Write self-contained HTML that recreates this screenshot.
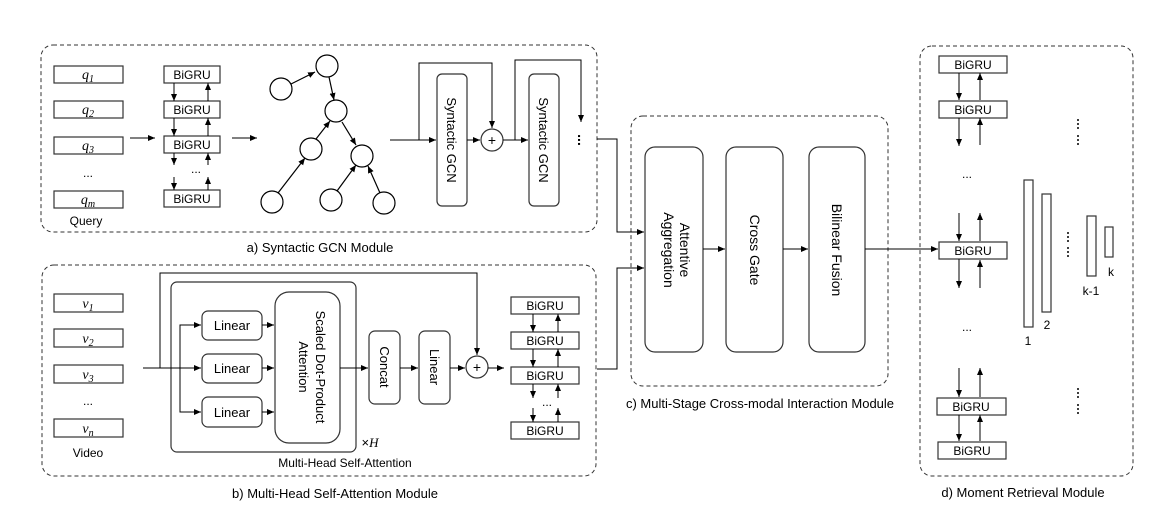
<!DOCTYPE html>
<html><head><meta charset="utf-8"><style>
html,body{margin:0;padding:0;background:#fff;}
svg{display:block;}
text{font-family:"Liberation Sans",sans-serif;fill:#000;}
.m{font-family:"Liberation Serif",serif;font-style:italic;}
</style></head><body>
<svg width="1166" height="517" viewBox="0 0 1166 517" xmlns="http://www.w3.org/2000/svg">
<defs>
<marker id="a" markerWidth="8" markerHeight="8" refX="7" refY="4" orient="auto" markerUnits="userSpaceOnUse">
<path d="M0,1 L7,4 L0,7 Z" fill="#000"/></marker>
</defs>
<g fill="none" stroke="#333" stroke-width="1" stroke-dasharray="4,3">
<rect x="41" y="45" width="556" height="187" rx="12"/>
<rect x="42" y="265" width="554" height="211" rx="12"/>
<rect x="631" y="116" width="257" height="270" rx="12"/>
<rect x="920" y="46" width="213" height="430" rx="12"/>
</g>
<g font-size="13" text-anchor="middle">
<text x="320" y="252">a) Syntactic GCN Module</text>
<text x="335" y="498">b) Multi-Head Self-Attention Module</text>
<text x="760" y="408">c) Multi-Stage Cross-modal Interaction Module</text>
<text x="1023" y="497">d) Moment Retrieval Module</text>
</g>

<!-- a) -->
<g fill="#fff" stroke="#333" stroke-width="1.2">
<rect x="54" y="66" width="69" height="17"/>
<rect x="54" y="101" width="69" height="17"/>
<rect x="54" y="137" width="69" height="17"/>
<rect x="54" y="191" width="69" height="17"/>
<rect x="164" y="66" width="56" height="17"/>
<rect x="164" y="101" width="56" height="17"/>
<rect x="164" y="136" width="56" height="17"/>
<rect x="164" y="190" width="56" height="17"/>
</g>
<g font-size="14" text-anchor="middle">
<text x="88" y="79" class="m">q<tspan font-size="10" dy="3">1</tspan></text>
<text x="88" y="114" class="m">q<tspan font-size="10" dy="3">2</tspan></text>
<text x="88" y="150" class="m">q<tspan font-size="10" dy="3">3</tspan></text>
<text x="88" y="204" class="m">q<tspan font-size="10" dy="3">m</tspan></text>
</g>
<g font-size="12" text-anchor="middle">
<text x="88" y="177">...</text>
<text x="86" y="225" font-size="12">Query</text>
<text x="192" y="79">BiGRU</text>
<text x="192" y="114">BiGRU</text>
<text x="192" y="149">BiGRU</text>
<text x="196" y="173">...</text>
<text x="192" y="203">BiGRU</text>
</g>
<g stroke="#000" stroke-width="1" marker-end="url(#a)">
<line x1="174" y1="83" x2="174" y2="101"/><line x1="208" y1="101" x2="208" y2="83"/>
<line x1="174" y1="118" x2="174" y2="136"/><line x1="208" y1="136" x2="208" y2="118"/>
<line x1="174" y1="153" x2="174" y2="165"/><line x1="208" y1="165" x2="208" y2="153"/>
<line x1="174" y1="177" x2="174" y2="190"/><line x1="208" y1="190" x2="208" y2="177"/>
<line x1="130" y1="138" x2="155" y2="138"/>
<line x1="232" y1="138" x2="257" y2="138"/>
</g>
<g stroke="#000" stroke-width="1.2" marker-end="url(#a)">
<line x1="291" y1="84" x2="315" y2="72"/>
<line x1="329" y1="77" x2="334" y2="100"/>
<line x1="316" y1="139" x2="330" y2="121"/>
<line x1="342" y1="122" x2="356" y2="145"/>
<line x1="278" y1="193" x2="305" y2="158"/>
<line x1="337" y1="191" x2="356" y2="165"/>
<line x1="380" y1="193" x2="368" y2="166"/>
</g>
<g fill="#fff" stroke="#000" stroke-width="1.2">
<circle cx="327" cy="66" r="11"/>
<circle cx="281" cy="89" r="11"/>
<circle cx="336" cy="111" r="11"/>
<circle cx="311" cy="149" r="11"/>
<circle cx="362" cy="156" r="11"/>
<circle cx="272" cy="202" r="11"/>
<circle cx="331" cy="200" r="11"/>
<circle cx="384" cy="203" r="11"/>
</g>
<g fill="#fff" stroke="#333" stroke-width="1.2">
<rect x="437" y="74" width="30" height="132" rx="5"/>
<rect x="529" y="74" width="30" height="132" rx="5"/>
<circle cx="492" cy="140" r="11"/>
</g>
<g font-size="13" text-anchor="middle">
<text transform="translate(447,140) rotate(90)">Syntactic GCN</text>
<text transform="translate(539,140) rotate(90)">Syntactic GCN</text>
<text x="492" y="145" font-size="14">+</text>
<text transform="translate(578,140) rotate(90)" font-size="14" font-weight="bold">...</text>
</g>
<g stroke="#000" stroke-width="1" fill="none">
<line x1="390" y1="140" x2="436" y2="140" marker-end="url(#a)"/>
<polyline points="419,140 419,63 492,63 492,128" marker-end="url(#a)"/>
<line x1="467" y1="140" x2="480" y2="140" marker-end="url(#a)"/>
<line x1="503" y1="140" x2="528" y2="140" marker-end="url(#a)"/>
<polyline points="515,140 515,60 581,60 581,122" marker-end="url(#a)"/>
<polyline points="597,139 617,139 617,232 644,232" marker-end="url(#a)"/>
<polyline points="597,369 617,369 617,268 644,268" marker-end="url(#a)"/>
</g>

<!-- b) -->
<g fill="#fff" stroke="#333" stroke-width="1.2">
<rect x="54" y="294" width="69" height="18"/>
<rect x="54" y="329" width="69" height="18"/>
<rect x="54" y="365" width="69" height="18"/>
<rect x="54" y="419" width="69" height="18"/>
</g>
<g font-size="14" text-anchor="middle">
<text x="88" y="308" class="m">v<tspan font-size="10" dy="3">1</tspan></text>
<text x="88" y="343" class="m">v<tspan font-size="10" dy="3">2</tspan></text>
<text x="88" y="379" class="m">v<tspan font-size="10" dy="3">3</tspan></text>
<text x="88" y="433" class="m">v<tspan font-size="10" dy="3">n</tspan></text>
<text x="88" y="405" font-size="12">...</text>
<text x="88" y="457" font-size="12">Video</text>
</g>
<g fill="none" stroke="#333" stroke-width="1.2">
<rect x="171" y="282" width="185" height="170" rx="6"/>
<rect x="202" y="311" width="60" height="29" rx="6" fill="#fff"/>
<rect x="202" y="354" width="60" height="29" rx="6" fill="#fff"/>
<rect x="202" y="397" width="60" height="30" rx="6" fill="#fff"/>
<rect x="275" y="292" width="65" height="151" rx="14" fill="#fff"/>
<rect x="369" y="331" width="31" height="73" rx="6" fill="#fff"/>
<rect x="419" y="331" width="31" height="73" rx="6" fill="#fff"/>
<circle cx="477" cy="367" r="11" fill="#fff"/>
</g>
<g font-size="13" text-anchor="middle">
<text x="232" y="330">Linear</text>
<text x="232" y="373">Linear</text>
<text x="232" y="417">Linear</text>
<text transform="translate(316,367) rotate(90)">Scaled Dot-Product</text>
<text transform="translate(299,367) rotate(90)">Attention</text>
<text transform="translate(380,367) rotate(90)">Concat</text>
<text transform="translate(430,367) rotate(90)">Linear</text>
<text x="477" y="372" font-size="14">+</text>
<text x="345" y="467" font-size="12">Multi-Head Self-Attention</text>
<text x="370" y="447" font-size="13"><tspan>×</tspan><tspan class="m">H</tspan></text>
</g>
<g stroke="#000" stroke-width="1" fill="none">
<line x1="143" y1="368" x2="201" y2="368" marker-end="url(#a)"/>
<polyline points="160,368 160,273 477,273 477,355" marker-end="url(#a)"/>
<polyline points="201,325 180,325 180,412 201,412" />
<line x1="192" y1="325" x2="201" y2="325" marker-end="url(#a)"/>
<line x1="192" y1="412" x2="201" y2="412" marker-end="url(#a)"/>
<line x1="262" y1="325" x2="274" y2="325" marker-end="url(#a)"/>
<line x1="262" y1="368" x2="274" y2="368" marker-end="url(#a)"/>
<line x1="262" y1="412" x2="274" y2="412" marker-end="url(#a)"/>
<line x1="340" y1="368" x2="368" y2="368" marker-end="url(#a)"/>
<line x1="400" y1="368" x2="418" y2="368" marker-end="url(#a)"/>
<line x1="450" y1="368" x2="465" y2="368" marker-end="url(#a)"/>
<line x1="488" y1="368" x2="504" y2="368" marker-end="url(#a)"/>
</g>
<g fill="#fff" stroke="#333" stroke-width="1.2">
<rect x="511" y="297" width="68" height="17"/>
<rect x="511" y="332" width="68" height="17"/>
<rect x="511" y="367" width="68" height="17"/>
<rect x="511" y="422" width="68" height="17"/>
</g>
<g font-size="12" text-anchor="middle">
<text x="545" y="310">BiGRU</text>
<text x="545" y="345">BiGRU</text>
<text x="545" y="380">BiGRU</text>
<text x="547" y="406">...</text>
<text x="545" y="435">BiGRU</text>
</g>
<g stroke="#000" stroke-width="1" marker-end="url(#a)">
<line x1="533" y1="314" x2="533" y2="332"/><line x1="558" y1="332" x2="558" y2="314"/>
<line x1="533" y1="349" x2="533" y2="367"/><line x1="558" y1="367" x2="558" y2="349"/>
<line x1="533" y1="384" x2="533" y2="398"/><line x1="558" y1="398" x2="558" y2="384"/>
<line x1="533" y1="408" x2="533" y2="422"/><line x1="558" y1="422" x2="558" y2="408"/>
</g>

<!-- c) -->
<g fill="#fff" stroke="#333" stroke-width="1.2">
<rect x="645" y="147" width="58" height="205" rx="10"/>
<rect x="726" y="147" width="57" height="205" rx="10"/>
<rect x="809" y="147" width="56" height="205" rx="10"/>
</g>
<g font-size="14" text-anchor="middle">
<text transform="translate(680,250) rotate(90)">Attentive</text>
<text transform="translate(664,250) rotate(90)">Aggregation</text>
<text transform="translate(750,250) rotate(90)">Cross Gate</text>
<text transform="translate(832,250) rotate(90)">Bilinear Fusion</text>
</g>
<g stroke="#000" stroke-width="1" marker-end="url(#a)">
<line x1="703" y1="249" x2="725" y2="249"/>
<line x1="783" y1="249" x2="808" y2="249"/>
<line x1="865" y1="249" x2="938" y2="249"/>
</g>

<!-- d) -->
<g fill="#fff" stroke="#333" stroke-width="1.2">
<rect x="939" y="56" width="68" height="17"/>
<rect x="939" y="101" width="68" height="17"/>
<rect x="939" y="242" width="68" height="17"/>
<rect x="937" y="398" width="69" height="17"/>
<rect x="938" y="442" width="68" height="17"/>
<rect x="1024" y="180" width="9" height="147"/>
<rect x="1042" y="194" width="9" height="118"/>
<rect x="1087" y="216" width="9" height="60"/>
<rect x="1105" y="227" width="8" height="30"/>
</g>
<g font-size="12" text-anchor="middle">
<text x="973" y="69">BiGRU</text>
<text x="973" y="114">BiGRU</text>
<text x="973" y="255">BiGRU</text>
<text x="971" y="411">BiGRU</text>
<text x="972" y="455">BiGRU</text>
<text x="967" y="178">...</text>
<text x="967" y="331">...</text>
<text x="1028" y="345" font-size="12">1</text>
<text x="1047" y="329" font-size="12">2</text>
<text x="1091" y="295" font-size="12">k-1</text>
<text x="1111" y="276" font-size="12">k</text>
</g>
<g fill="#000">
<circle cx="1078" cy="120" r="1"/><circle cx="1078" cy="124" r="1"/><circle cx="1078" cy="128" r="1"/>
<circle cx="1078" cy="136" r="1"/><circle cx="1078" cy="140" r="1"/><circle cx="1078" cy="144" r="1"/>
<circle cx="1068" cy="233" r="1"/><circle cx="1068" cy="237" r="1"/><circle cx="1068" cy="241" r="1"/>
<circle cx="1068" cy="248" r="1"/><circle cx="1068" cy="252" r="1"/><circle cx="1068" cy="256" r="1"/>
<circle cx="1078" cy="389" r="1"/><circle cx="1078" cy="393" r="1"/><circle cx="1078" cy="397" r="1"/>
<circle cx="1078" cy="405" r="1"/><circle cx="1078" cy="409" r="1"/><circle cx="1078" cy="413" r="1"/>
</g>
<g stroke="#000" stroke-width="1" marker-end="url(#a)">
<line x1="959" y1="73" x2="959" y2="100"/><line x1="980" y1="100" x2="980" y2="73"/>
<line x1="959" y1="118" x2="959" y2="146"/><line x1="980" y1="145" x2="980" y2="118"/>
<line x1="959" y1="213" x2="959" y2="241"/><line x1="980" y1="241" x2="980" y2="213"/>
<line x1="959" y1="259" x2="959" y2="288"/><line x1="980" y1="288" x2="980" y2="260"/>
<line x1="959" y1="368" x2="959" y2="397"/><line x1="980" y1="397" x2="980" y2="368"/>
<line x1="959" y1="415" x2="959" y2="441"/><line x1="980" y1="441" x2="980" y2="415"/>
</g>
</svg>
</body></html>
